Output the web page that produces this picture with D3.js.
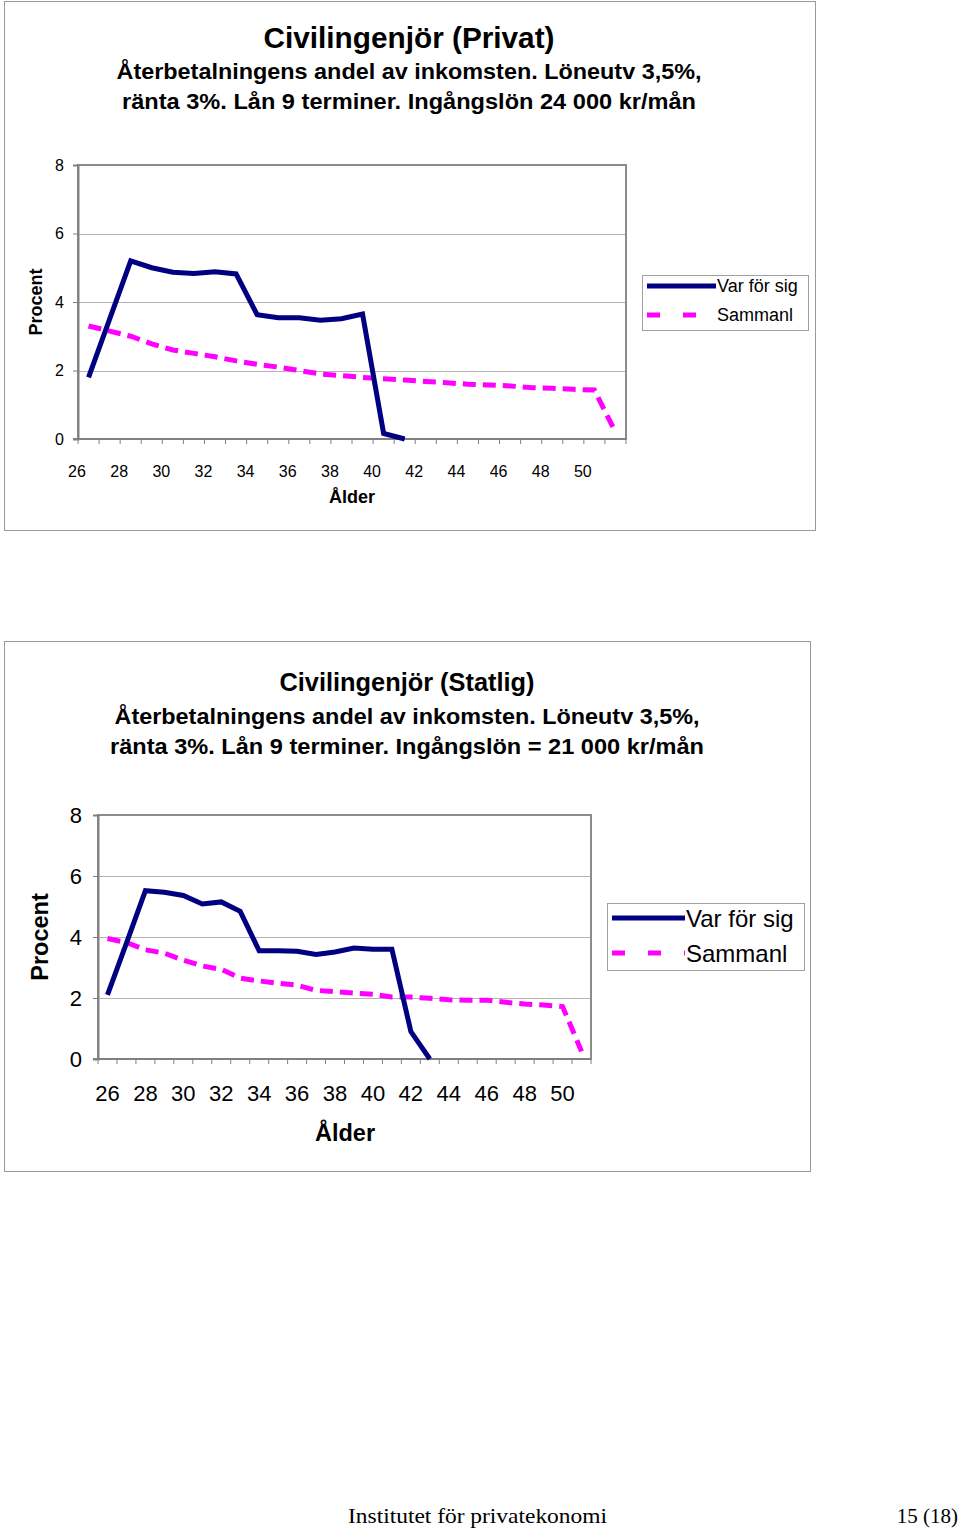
<!DOCTYPE html>
<html><head><meta charset="utf-8">
<script src="https://cdn.jsdelivr.net/npm/d3@7"></script>
<style>body{margin:0;background:#fff;} svg{display:block;}</style>
</head><body>
<script>
const ages = d3.range(26, 52); // 26..51
const tickLabels = ["26","28","30","32","34","36","38","40","42","44","46","48","50"];
const yTicks = [0, 2, 4, 6, 8];
const seriesNames = ["Var för sig", "Sammanl"];

const privatVarForSig = [1.8, 3.5, 5.2, 5.0, 4.87, 4.83, 4.88, 4.82, 3.63, 3.54, 3.54, 3.47, 3.51, 3.65, 0.16, 0];
const privatSammanl = [3.3, 3.15, 3.0, 2.78, 2.6, 2.5, 2.4, 2.28, 2.18, 2.1, 2.0, 1.9, 1.85, 1.8, 1.76, 1.72, 1.68, 1.64, 1.6, 1.58, 1.55, 1.5, 1.48, 1.45, 1.43, 0.2];

const statligVarForSig = [2.1, 3.8, 5.52, 5.47, 5.36, 5.08, 5.15, 4.84, 3.55, 3.55, 3.53, 3.43, 3.51, 3.64, 3.6, 3.6, 0.9, 0];
const statligSammanl = [3.95, 3.82, 3.58, 3.47, 3.24, 3.05, 2.94, 2.65, 2.56, 2.48, 2.42, 2.25, 2.21, 2.16, 2.12, 2.03, 2.03, 1.99, 1.94, 1.93, 1.93, 1.86, 1.8, 1.77, 1.72, 0.25];

const titles1 = ["Civilingenjör (Privat)", "Återbetalningens andel av inkomsten. Löneutv 3,5%,", "ränta 3%. Lån 9 terminer. Ingångslön 24 000 kr/mån"];
const titles2 = ["Civilingenjör (Statlig)", "Återbetalningens andel av inkomsten. Löneutv 3,5%,", "ränta 3%. Lån 9 terminer. Ingångslön = 21 000 kr/mån"];

const NAVY = "#000080", MAG = "#ff00ff", FONT = "'Liberation Sans', Arial, sans-serif";

const svg = d3.select("body").append("svg").attr("width", 960).attr("height", 1528);

function drawChart(cfg, varData, samData, titles) {
  const g = svg.append("g");
  g.append("rect").attr("x", cfg.frame[0] + 0.5).attr("y", cfg.frame[1] + 0.5)
    .attr("width", cfg.frame[2] - cfg.frame[0]).attr("height", cfg.frame[3] - cfg.frame[1])
    .attr("fill", "#fff").attr("stroke", "#9a9a9a").attr("stroke-width", 1);

  // titles
  const ty = [cfg.titleY, cfg.sub1Y, cfg.sub2Y], ts = [cfg.titleSize, cfg.subSize, cfg.subSize];
  titles.forEach((t, i) => {
    g.append("text").attr("x", cfg.cx).attr("y", ty[i]).attr("text-anchor", "middle")
      .attr("font-family", FONT).attr("font-weight", "bold").attr("font-size", ts[i])
      .attr("textLength", cfg.titleW[i]).attr("lengthAdjust", "spacingAndGlyphs").text(t);
  });

  const x = d3.scaleBand().domain(ages).range([cfg.left, cfg.right]).paddingInner(0).paddingOuter(0);
  const y = d3.scaleLinear().domain([0, 8]).range([cfg.bottom, cfg.top]);
  const cxp = a => x(a) + x.bandwidth() / 2;

  // gridlines
  g.selectAll(".grid").data(yTicks.filter(v => v > 0 && v < 8)).join("line")
    .attr("x1", cfg.left).attr("x2", cfg.right)
    .attr("y1", d => Math.round(y(d)) + 0.5).attr("y2", d => Math.round(y(d)) + 0.5)
    .attr("stroke", "#b4b4b4").attr("stroke-width", 1);

  // plot border
  g.append("rect").attr("x", cfg.left).attr("y", cfg.top).attr("width", cfg.right - cfg.left)
    .attr("height", cfg.bottom - cfg.top).attr("fill", "none").attr("stroke", "#8c8c8c").attr("stroke-width", 2);

  // y axis
  const yAxis = d3.axisLeft(y).tickValues(yTicks).tickSize(5).tickPadding(cfg.yPad).tickFormat(d3.format("d"));
  const ya = g.append("g").attr("transform", `translate(${cfg.left},0)`).call(yAxis);
  ya.select(".domain").attr("stroke", "#808080").attr("stroke-width", 2);
  ya.selectAll(".tick line").attr("stroke", "#808080");
  ya.selectAll(".tick text").attr("font-family", FONT).attr("font-size", cfg.tickSize).attr("fill", "#000");

  // x axis: tick marks at category boundaries
  const bounds = ages.map(a => x(a)).concat([cfg.right]);
  g.selectAll(".xt").data(bounds).join("line")
    .attr("x1", d => d).attr("x2", d => d).attr("y1", cfg.bottom).attr("y2", cfg.bottom + 5)
    .attr("stroke", "#808080").attr("stroke-width", 1);
  g.append("line").attr("x1", cfg.left - 5).attr("x2", cfg.right).attr("y1", cfg.bottom).attr("y2", cfg.bottom)
    .attr("stroke", "#808080").attr("stroke-width", 2);
  g.selectAll(".xl").data(tickLabels).join("text")
    .attr("x", d => cfg.labelsAtTick ? x(+d) - 1 : cxp(+d)).attr("y", cfg.xLabY)
    .attr("text-anchor", "middle").attr("font-family", FONT).attr("font-size", cfg.tickSize).text(d => d);

  // axis titles
  g.append("text").attr("x", cfg.alderX).attr("y", cfg.alderY).attr("text-anchor", "middle")
    .attr("font-family", FONT).attr("font-weight", "bold").attr("font-size", cfg.axTitleSize).text("Ålder");
  g.append("text").attr("transform", `translate(${cfg.procX},${cfg.procY}) rotate(-90)`).attr("text-anchor", "middle")
    .attr("font-family", FONT).attr("font-weight", "bold").attr("font-size", cfg.axTitleSize).text("Procent");

  // lines
  const line = d3.line().x((d, i) => cxp(ages[i])).y(d => y(d));
  g.append("path").datum(samData).attr("d", line).attr("fill", "none").attr("stroke", MAG)
    .attr("stroke-width", 5).attr("stroke-dasharray", "13,7");
  g.append("path").datum(varData).attr("d", line).attr("fill", "none").attr("stroke", NAVY)
    .attr("stroke-width", 5).attr("stroke-linejoin", "miter");

  // legend
  const L = cfg.legend;
  g.append("rect").attr("x", L.x + 0.5).attr("y", L.y + 0.5).attr("width", L.w).attr("height", L.h)
    .attr("fill", "#fff").attr("stroke", "#a0a0a0");
  g.append("line").attr("x1", L.x + 5).attr("x2", L.x + 5 + L.sw).attr("y1", L.r1).attr("y2", L.r1)
    .attr("stroke", NAVY).attr("stroke-width", 5);
  g.append("line").attr("x1", L.x + 5).attr("x2", L.x + 5 + L.sw).attr("y1", L.r2).attr("y2", L.r2)
    .attr("stroke", MAG).attr("stroke-width", 5).attr("stroke-dasharray", "13,23");
  g.append("text").attr("x", L.x + 6 + L.sw).attr("y", L.r1 + L.fs * 0.36).attr("font-family", FONT)
    .attr("font-size", L.fs).text(seriesNames[0]);
  g.append("text").attr("x", L.x + 6 + L.sw).attr("y", L.r2 + L.fs * 0.36).attr("font-family", FONT)
    .attr("font-size", L.fs).text(seriesNames[1]);
}

drawChart({
  frame: [4, 1, 815, 530], cx: 409, titleY: 48, sub1Y: 79, sub2Y: 109, titleSize: 29, subSize: 22.5,
  titleW: [291, 585, 574],
  left: 78, right: 626, top: 165, bottom: 439, yPad: 9, tickSize: 16, xLabY: 477, labelsAtTick: true,
  alderX: 352, alderY: 503, procX: 42, procY: 302, axTitleSize: 18,
  legend: {x: 642, y: 275, w: 166, h: 55, sw: 69, r1: 286, r2: 315, fs: 18}
}, privatVarForSig, privatSammanl, titles1);

drawChart({
  frame: [4, 641, 810, 1171], cx: 407, titleY: 691, sub1Y: 724, sub2Y: 754, titleSize: 25.5, subSize: 22.5,
  titleW: [255, 585, 594],
  left: 98, right: 591, top: 815, bottom: 1059, yPad: 11, tickSize: 22, xLabY: 1101, labelsAtTick: false,
  alderX: 345, alderY: 1141, procX: 48, procY: 937, axTitleSize: 23.5,
  legend: {x: 607, y: 903, w: 197, h: 67, sw: 73, r1: 918, r2: 953, fs: 24}
}, statligVarForSig, statligSammanl, titles2);

// footer
svg.append("text").attr("x", 348).attr("y", 1523).attr("font-family", "'Liberation Serif', 'Times New Roman', serif")
  .attr("font-size", 22).attr("textLength", 259).attr("lengthAdjust", "spacingAndGlyphs").text("Institutet för privatekonomi");
svg.append("text").attr("x", 958).attr("y", 1523).attr("text-anchor", "end")
  .attr("font-family", "'Liberation Serif', 'Times New Roman', serif").attr("font-size", 21).text("15 (18)");
</script>
</body></html>
